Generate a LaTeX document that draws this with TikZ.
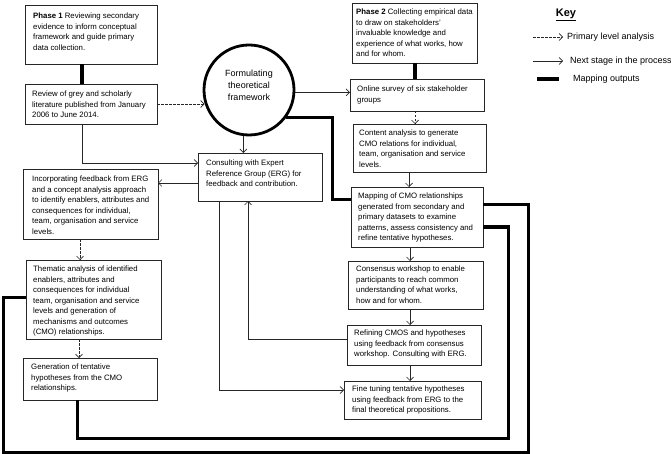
\documentclass[tikz,border=0pt]{standalone}
\usepackage{fontspec}
\setmainfont{Liberation Sans}
\usetikzlibrary{arrows.meta,calc}
\newcommand\bx[5]{\node[box, minimum width={(#4-#2)*1pt}, minimum height={(#5-#3)*1pt}] (#1) at ({(#2+#4)/2},{(#3+#5)/2}) {};}
\begin{document}
\begin{tikzpicture}[x=1pt,y=-1pt,
  box/.style={draw=black!85, line width=0.8pt, inner sep=0pt, outer sep=0pt},
  txt/.style={inner sep=0pt, align=left, anchor=north west, font=\fontsize{7.8}{10.5}\selectfont},
  thinln/.style={line width=0.7pt, draw=black!85},
  arr/.style={thinln, -{Straight Barb[length=3.5pt,width=7pt]}},
  darr/.style={arr, dash pattern=on 2.5pt off 1.5pt},
  thickln/.style={line width=3pt, line join=miter},
  thickerln/.style={line width=4.5pt},
  keytxt/.style={inner sep=0pt, anchor=west, font=\fontsize{9}{11}\selectfont},
]
\useasboundingbox (0,0) rectangle (671,454);

% boxes
\bx{p1}{25}{5}{157}{64}
\bx{rev}{25}{84}{157}{124}
\bx{erg}{198}{153}{322}{201}
\bx{inc}{23}{169}{158}{239}
\bx{them}{26}{260}{161}{339}
\bx{gen}{23}{358}{157}{400}
\bx{p2}{352}{3}{477}{63}
\bx{onl}{350}{79}{484}{111}
\bx{cont}{353}{124}{486}{172}
\bx{map}{351}{187}{483}{247}
\bx{cons}{348}{261}{483}{309}
\bx{ref}{347}{325}{481}{365}
\bx{fine}{344}{381}{481}{419}

% texts
\node[txt] (p1t) at (33,12.7) {\textbf{Phase 1} Reviewing secondary\\evidence to inform conceptual\\framework and guide primary\\data collection.};
\node[txt] (revt) at (32,91) {Review of grey and scholarly\\literature published from January\\2006 to June 2014.};
\node[txt] (ergt) at (206,160) {Consulting with Expert\\Reference Group (ERG) for\\feedback and contribution.};
\node[txt] (inct) at (32,176) {Incorporating feedback from ERG\\and a concept analysis approach\\to identify enablers, attributes and\\consequences for individual,\\team, organisation and service\\levels.};
\node[txt] (themt) at (33,266) {Thematic analysis of identified\\enablers, attributes and\\consequences for individual\\team, organisation and service\\levels and generation of\\mechanisms and outcomes\\(CMO) relationships.};
\node[txt] (gent) at (31,364) {Generation of tentative\\hypotheses from the CMO\\relationships.};
\node[txt] (p2t) at (356,9) {\textbf{Phase 2} Collecting empirical data\\to draw on stakeholders'\\invaluable knowledge and\\experience of what works, how\\and for whom.};
\node[txt] (onlt) at (357,86) {Online survey of six stakeholder\\groups};
\node[txt] (contt) at (359,130) {Content analysis to generate\\CMO relations for individual,\\team, organisation and service\\levels.};
\node[txt] (mapt) at (358,193) {Mapping of CMO relationships\\generated from secondary and\\primary datasets to examine\\patterns, assess consistency and\\refine tentative hypotheses.};
\node[txt] (const) at (356,266) {Consensus workshop to enable\\participants to reach common\\understanding of what works,\\how and for whom.};
\node[txt] (reft) at (354,330) {Refining CMOS and hypotheses\\using feedback from consensus\\workshop. Consulting with ERG.};
\node[txt] (finet) at (352,386) {Fine tuning tentative hypotheses\\using feedback from ERG to the\\final theoretical propositions.};

% circle
\node[circle, draw, line width=2.8pt, minimum size=90pt, inner sep=0pt] (circ) at (249,90) {};
\node[align=center, inner sep=0pt, font=\fontsize{9}{12}\selectfont] (circt) at (249,85) {Formulating\\theoretical\\framework};

% thick connectors phase -> first step
\draw[thickerln] (p1.south -| 82,0) -- (rev.north -| 82,0);
\draw[thickerln] (p2.south -| 415,0) -- (onl.north -| 415,0);

% primary level (dashed)
\draw[darr] (rev.east) -- (rev.east -| circ.197);
\draw[darr] (onl.south -| 415,0) -- (cont.north -| 415,0);
\draw[darr] (inc.south -| 80,0) -- (them.north -| 80,0);
\draw[darr] (them.south -| 79,0) -- (gen.north -| 79,0);

% next stage (solid)
\draw[arr] (circ.-3) -- (circ.-3 -| onl.west);
\draw[arr] (circ.-97) -- (circ.-97 |- erg.north);
\draw[arr] (rev.south -| 82,0) |- (erg.west |- 0,163);
\draw[arr] (erg.west |- 0,183) -- (inc.east |- 0,183);
\draw[arr] (cont.south -| 409,0) -- (map.north -| 409,0);
\draw[arr] (map.south -| 410,0) -- (cons.north -| 410,0);
\draw[arr] (cons.south -| 410,0) -- (ref.north -| 410,0);
\draw[arr] (ref.south -| 410,0) -- (fine.north -| 410,0);
\draw[arr] (erg.south -| 219,0) |- (fine.west |- 0,390);
\draw[arr] (ref.west |- 0,339) -| (erg.south -| 248,0);

% mapping outputs (thick)
\draw[thickln] (circ.-37) -| (332,200) -- (map.west |- 0,200);
\draw[thickln] (map.east |- 0,205) -| (528,452) -| (3,297) -- (them.west |- 0,297);
\draw[thickln] (map.east |- 0,227) -| (508,438) -| (gen.south -| 77,0);

% key
\node[inner sep=0pt, font=\fontsize{11}{13}\selectfont\bfseries] (key) at (566,15) {\underline{Key}};
\coordinate (k1a) at (533,37); \coordinate (k1b) at (563,37);
\draw[darr] (k1a) -- (k1b);
\node[keytxt] (k1t) at (567,37) {Primary level analysis};
\coordinate (k2a) at (533,61); \coordinate (k2b) at (563,61);
\draw[arr] (k2a) -- (k2b);
\node[keytxt] (k2t) at (570,61) {Next stage in the process};
\coordinate (k3a) at (537,79); \coordinate (k3b) at (559,79);
\draw[thickerln] (k3a) -- (k3b);
\node[keytxt] (k3t) at (573,79) {Mapping outputs};
\end{tikzpicture}
\end{document}
